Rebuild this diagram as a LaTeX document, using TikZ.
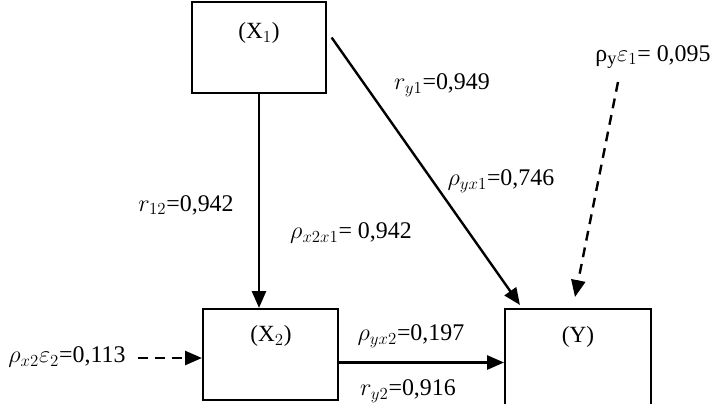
\documentclass[tikz,border=0pt]{standalone}
\usepackage{fontspec}
\setmainfont{Liberation Serif}
\DeclareMathSizes{17}{17}{13}{10}
\usetikzlibrary{arrows.meta}

\begin{document}
\begin{tikzpicture}[x=0.025cm,y=-0.025cm,
    every node/.style={font=\fontsize{17}{19}\selectfont},
    box/.style={draw,line width=1.4pt,minimum width=3.33cm,minimum height=2.28cm,inner sep=0pt},
    ttl/.style={font=\fontsize{16.5}{19}\selectfont},
    ar/.style={-{Triangle[length=12pt,width=10pt]},line width=1.7pt},
    dar/.style={ar,dash pattern=on 7pt off 5pt}]
  \clip (0,0) rectangle (719,403);
  % variables
  \node[box] (x1) at (259,47.5) {};
  \node[box,minimum width=3.38cm] (x2) at (270.5,354.5) {};
  \node[box,minimum width=3.65cm,minimum height=3cm] (y) at (578,369) {};
  \node[ttl] (tx1) at (259,33) {(X$_1$)};
  \node[ttl] (tx2) at (271,336) {(X$_2$)};
  \node[ttl] (ty) at (578,337) {(Y)};
  % error terms
  \coordinate (e1) at (618,82);
  \coordinate (e2) at (138,358);
  % paths
  \draw[ar] (x1.south) -- (x1.south |- x2.north);
  \draw[ar] ([shift={(5,-10)}]x1.east) -- ([shift={(16,-3)}]y.north west);
  \draw[ar] ([shift={(0,8)}]x2.east) -- ([shift={(0,8)}]x2.east -| y.west);
  \draw[dar] (e1) -- ([shift={(-3,-11)}]y.north);
  \draw[dar] (e2) -- (e2 -| x2.west);
  % coefficients
  \node (ry1) at (442,85) {$r_{y1}$=0,949};
  \node (pe1) at (653,57) {ρ$_{\mathrm{y}}\varepsilon_1$= 0,095};
  \node (pyx1) at (501,181) {$\rho_{yx1}$=0,746};
  \node (r12) at (186,205) {$r_{12}$=0,942};
  \node (px2x1) at (351,233) {$\rho_{x2x1}$= 0,942};
  \node (pyx2) at (411,336) {$\rho_{yx2}$=0,197};
  \node (ry2) at (408,391) {$r_{y2}$=0,916};
  \node (pe2) at (67,357) {$\rho_{x2}\varepsilon_2$=0,113};
\end{tikzpicture}
\end{document}
